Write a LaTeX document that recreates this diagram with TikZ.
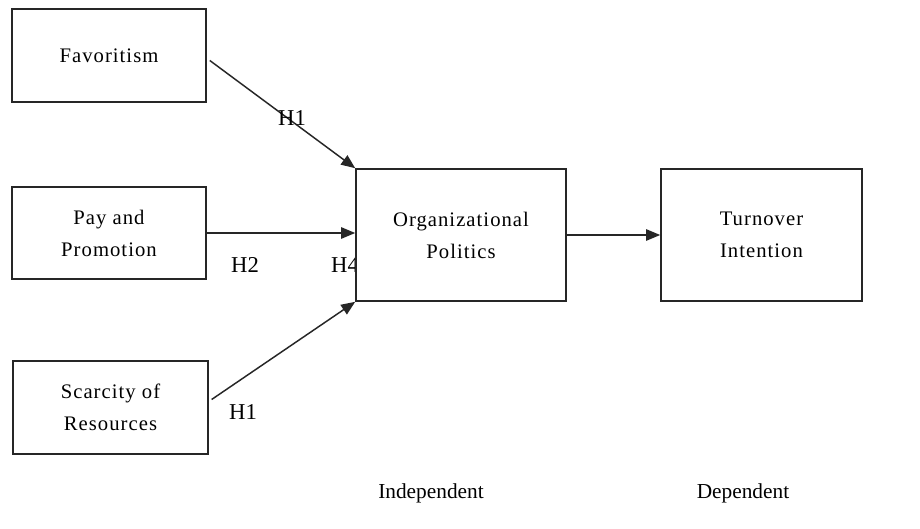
\documentclass[tikz,border=0pt]{standalone}
\usepackage{fontspec}
\setmainfont{Liberation Serif}
\newfontfamily\boxfont[LetterSpace=5]{Liberation Serif}
\usetikzlibrary{arrows.meta}
\begin{document}
\begin{tikzpicture}[x=0.75pt,y=-0.75pt,
  blk/.style={draw=black!85, line width=1.2pt, fill=white, align=center,
    inner sep=0pt, font=\boxfont\fontsize{15.5}{24}\selectfont},
  hlab/.style={font=\fontsize{17}{20}\selectfont, inner sep=0pt},
  conn/.style={line width=1.1pt, draw=black!85, -{Triangle[length=10.5pt,width=8.5pt]}}]
\useasboundingbox[fill=white] (0,0) rectangle (920,528);
% label partly hidden by the box
\node[hlab] (h4) at (345,265) {H4};
% boxes
\node[blk, minimum width=145.5pt, minimum height=69.75pt] (fav) at (109,55.5) {Favoritism};
\node[blk, minimum width=145.5pt, minimum height=69pt] (pay) at (109,233) {Pay and\\Promotion};
\node[blk, minimum width=146pt, minimum height=69.75pt] (sc) at (110.5,407.5) {Scarcity of\\Resources};
\node[blk, minimum width=157.5pt, minimum height=99pt] (org) at (461,235) {Organizational\\Politics};
\node[blk, minimum width=150.75pt, minimum height=99pt] (to) at (761.5,235) {Turnover\\Intention};
% connectors
\coordinate (favs) at ([shift={(3,5)}]fav.east);
\coordinate (scs) at ([shift={(3,-8)}]sc.east);
\draw[conn] (favs) -- (org.north west);
\draw[conn] (pay.east) -- (pay.east -| org.west);
\draw[conn] (scs) -- (org.south west);
\draw[conn] (org.east) -- (to.west);
% labels
\node[hlab] (h1a) at (292,118) {H1};
\node[hlab] (h2) at (245,265) {H2};
\node[hlab] (h1b) at (243,412) {H1};
\node[font=\fontsize{16}{19}\selectfont, inner sep=0pt] (ind) at (431,493) {Independent};
\node[font=\fontsize{16}{19}\selectfont, inner sep=0pt] (dep) at (743,493) {Dependent};
\end{tikzpicture}
\end{document}
